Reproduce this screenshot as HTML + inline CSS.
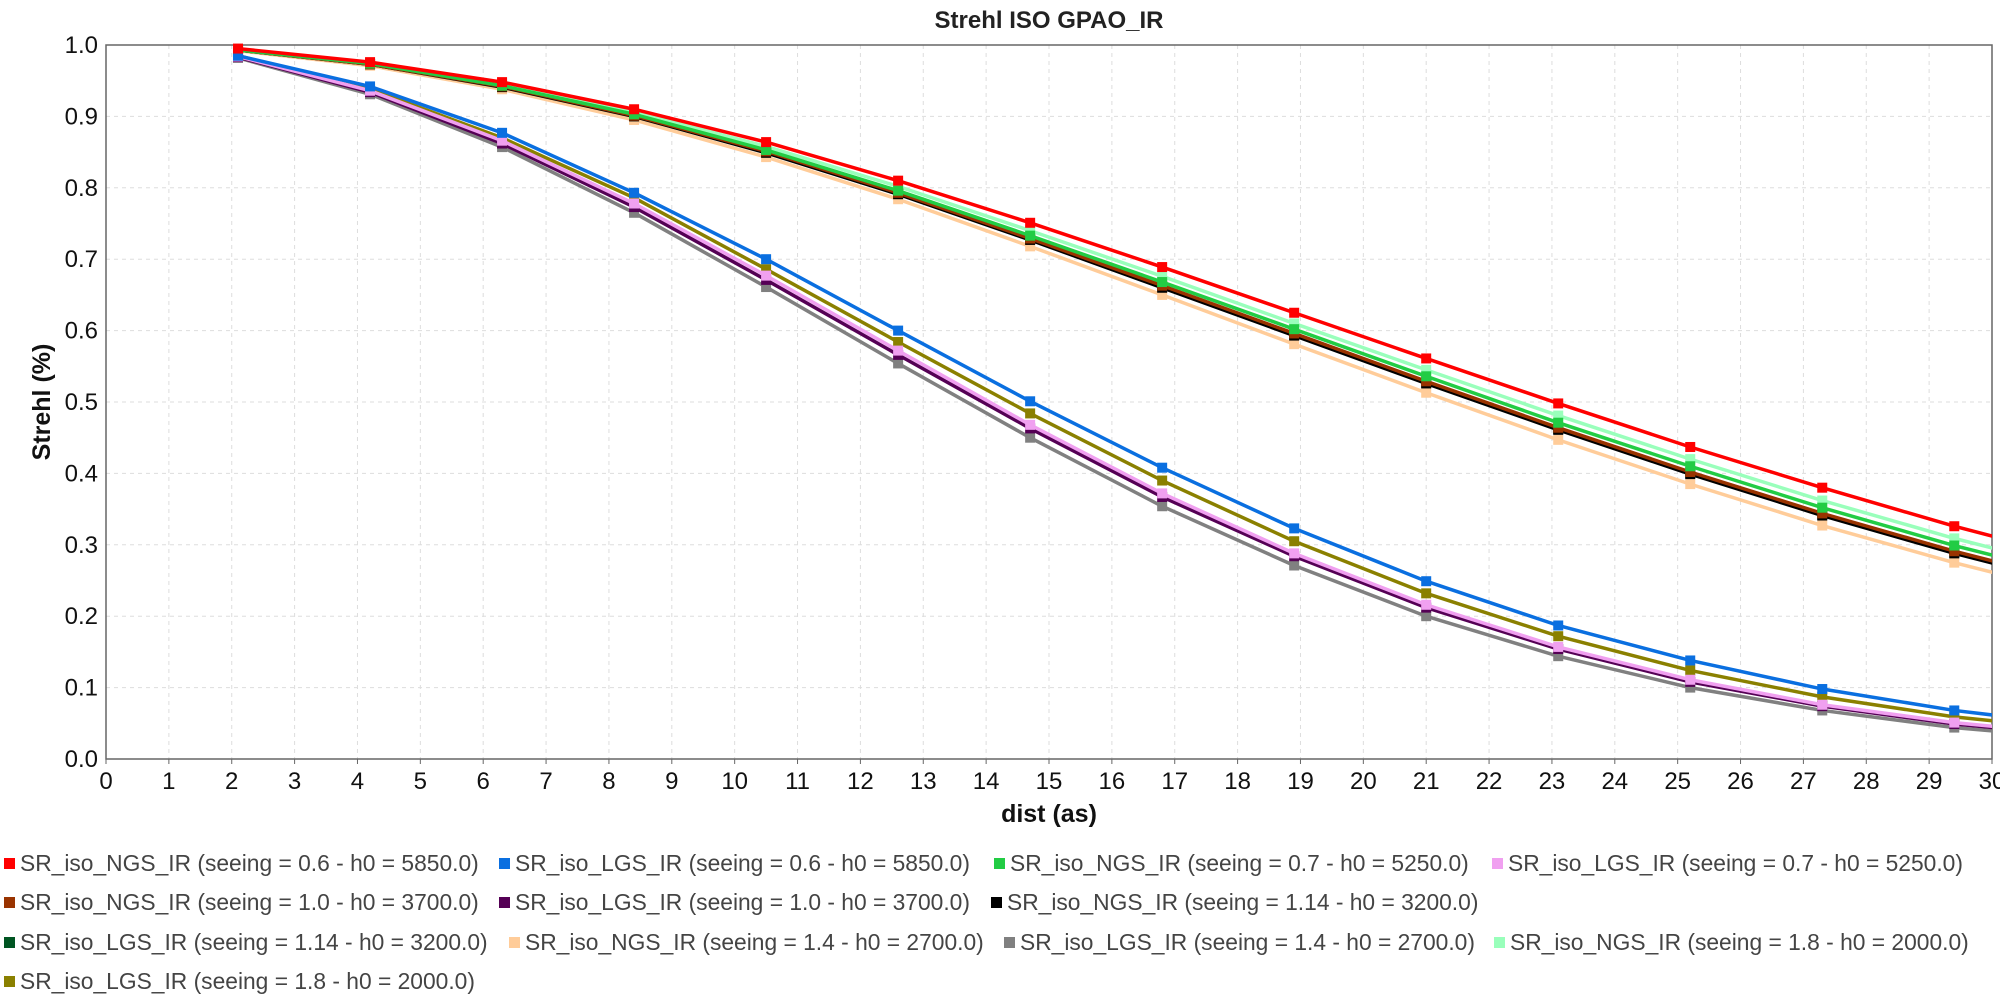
<!DOCTYPE html>
<html><head><meta charset="utf-8"><style>
body{margin:0;background:#fff;width:2000px;height:1000px;overflow:hidden;font-family:"Liberation Sans",sans-serif}
.leg{position:absolute;font-size:22.8px;color:#444;white-space:nowrap;display:flex;align-items:center}
.leg i{display:inline-block;width:11px;height:11px;margin-right:5px}
</style></head><body>
<svg id="chart" width="2000" height="1000" style="position:absolute;left:0;top:0"></svg>
<div id="legend"></div>
<script>
const xs=[2.1,4.2,6.3,8.4,10.5,12.6,14.7,16.8,18.9,21.0,23.1,25.2,27.3,29.4,31.5];
const names=["SR_iso_NGS_IR (seeing = 0.6 - h0 = 5850.0)","SR_iso_LGS_IR (seeing = 0.6 - h0 = 5850.0)","SR_iso_NGS_IR (seeing = 0.7 - h0 = 5250.0)","SR_iso_LGS_IR (seeing = 0.7 - h0 = 5250.0)","SR_iso_NGS_IR (seeing = 1.0 - h0 = 3700.0)","SR_iso_LGS_IR (seeing = 1.0 - h0 = 3700.0)","SR_iso_NGS_IR (seeing = 1.14 - h0 = 3200.0)","SR_iso_LGS_IR (seeing = 1.14 - h0 = 3200.0)","SR_iso_NGS_IR (seeing = 1.4 - h0 = 2700.0)","SR_iso_LGS_IR (seeing = 1.4 - h0 = 2700.0)","SR_iso_NGS_IR (seeing = 1.8 - h0 = 2000.0)","SR_iso_LGS_IR (seeing = 1.8 - h0 = 2000.0)"];
const colors=["#ff0000","#0a6fe0","#22cc44","#f0a0f0","#993300","#550055","#000000","#005522","#ffcc99","#808080","#99ffbb","#8a8000"];
const s0=[0.995,0.976,0.948,0.910,0.864,0.810,0.751,0.689,0.625,0.561,0.498,0.437,0.380,0.326,0.278];
const s1=[0.985,0.942,0.877,0.793,0.700,0.600,0.501,0.408,0.323,0.249,0.187,0.138,0.098,0.068,0.046];
const s2=[0.993,0.974,0.943,0.903,0.853,0.796,0.733,0.668,0.602,0.536,0.471,0.410,0.352,0.299,0.252];
const s3=[0.984,0.936,0.866,0.778,0.677,0.572,0.468,0.372,0.288,0.216,0.157,0.111,0.076,0.051,0.033];
const s4=[0.993,0.973,0.942,0.901,0.851,0.793,0.729,0.663,0.596,0.529,0.464,0.402,0.344,0.291,0.244];
const s5=[0.983,0.934,0.862,0.773,0.671,0.566,0.463,0.367,0.284,0.212,0.154,0.108,0.074,0.049,0.032];
const s6=[0.993,0.973,0.941,0.900,0.849,0.791,0.727,0.660,0.593,0.526,0.461,0.399,0.341,0.288,0.241];
const s7=[0.993,0.973,0.942,0.901,0.850,0.792,0.728,0.662,0.594,0.527,0.462,0.400,0.342,0.289,0.242];
const s8=[0.992,0.971,0.938,0.895,0.843,0.784,0.718,0.650,0.581,0.513,0.447,0.385,0.327,0.275,0.228];
const s9=[0.982,0.931,0.857,0.765,0.661,0.554,0.450,0.354,0.271,0.200,0.144,0.100,0.068,0.044,0.028];
const s10=[0.994,0.975,0.945,0.906,0.858,0.802,0.740,0.676,0.610,0.545,0.481,0.420,0.362,0.309,0.262];
const s11=[0.985,0.938,0.870,0.786,0.686,0.584,0.484,0.390,0.305,0.232,0.172,0.124,0.087,0.059,0.040];
const series=[s0,s1,s2,s3,s4,s5,s6,s7,s8,s9,s10,s11];
const xTicks=[...Array(31).keys()];
const yTicks=[0,0.1,0.2,0.3,0.4,0.5,0.6,0.7,0.8,0.9,1.0];
const L=106,R=1992,T=45,B=759;
const X=v=>L+(v/30)*(R-L), Y=v=>B-v*(B-T);
const svg=document.getElementById('chart'),NS="http://www.w3.org/2000/svg";
function mk(t,a,p){const e=document.createElementNS(NS,t);for(const k in a)e.setAttribute(k,a[k]);(p||svg).appendChild(e);return e;}
const title=mk('text',{x:(L+R)/2,y:28,'text-anchor':'middle','font-size':24,'font-weight':'bold',fill:'#222'});title.textContent="Strehl ISO GPAO_IR";


xTicks.forEach(t=>{const g=mk('line',{x1:X(t),x2:X(t),y1:T,y2:B,stroke:'#ddd','stroke-dasharray':'4 4'});


mk('line',{x1:X(t),x2:X(t),y1:B,y2:B+5,stroke:'#666'});
const l=mk('text',{x:X(t),y:B+30,'text-anchor':'middle','font-size':24,fill:'#111'});l.textContent=t;

});
yTicks.forEach(t=>{const g=mk('line',{x1:L,x2:R,y1:Y(t),y2:Y(t),stroke:'#ddd','stroke-dasharray':'4 4'});


const l=mk('text',{x:L-8,y:Y(t)+8,'text-anchor':'end','font-size':24,fill:'#111'});l.textContent=t.toFixed(1);

});
const frame=mk('rect',{x:L,y:T,width:R-L,height:B-T,fill:'none',stroke:'#666','stroke-width':1.5});


mk('clipPath',{id:'cp'});mk('rect',{x:L,y:T-8,width:R-L,height:B-T+16},svg.lastChild);
const xl=mk('text',{x:(L+R)/2,y:822,'text-anchor':'middle','font-size':25,'font-weight':'bold',fill:'#111'});xl.textContent="dist (as)";


const yl=mk('text',{x:0,y:0,transform:`translate(50,${(T+B)/2}) rotate(-90)`,'text-anchor':'middle','font-size':25,'font-weight':'bold',fill:'#111'});yl.textContent="Strehl (%)";


const gp=mk('g',{'clip-path':'url(#cp)'});
for(let i=series.length-1;i>=0;i--){const s=series[i];
const p=mk('polyline',{points:s.map((v,j)=>X(xs[j])+','+Y(v)).join(' '),fill:'none',stroke:colors[i],'stroke-width':3.5},gp);


s.forEach((v,j)=>{const m=mk('rect',{x:X(xs[j])-5,y:Y(v)-5,width:10,height:10,fill:colors[i]},gp);

});}
const pos=[[4,863],[499,863],[994,863],[1492,863],[4,902],[499,902],[991,902],[4,942],[509,942],[1004,942],[1494,942],[4,981]];
const lg=document.getElementById('legend');
names.forEach((n,i)=>{const d=document.createElement('div');d.className='leg';d.style.left=pos[i][0]+'px';d.style.top=(pos[i][1]-13)+'px';
d.innerHTML=`<i style="background:${colors[i]}"></i>${n}`;


lg.appendChild(d);});
</script>
</body></html>
